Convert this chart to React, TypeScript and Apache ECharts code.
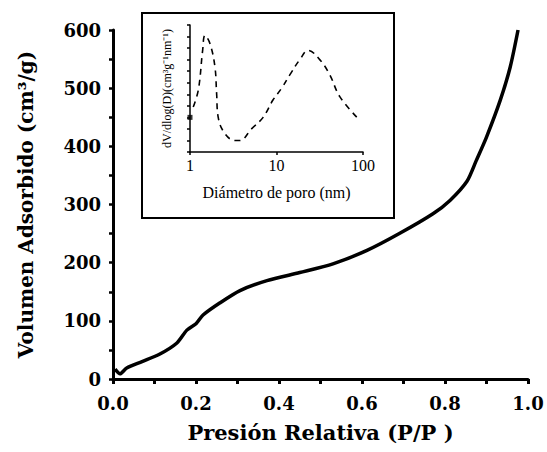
import React, { useEffect, useRef } from "react";
import * as echarts from "echarts";

// Main isotherm (relative pressure vs adsorbed volume)
const pressure = [0.005, 0.017, 0.033, 0.07, 0.113, 0.154, 0.178, 0.2, 0.217, 0.258, 0.306, 0.371, 0.45, 0.53, 0.612, 0.69, 0.771, 0.812, 0.853, 0.875, 0.9, 0.933, 0.957, 0.976];
const volume = [17, 9, 19, 30, 43, 62, 84, 95, 110, 131, 152, 169, 183, 198, 221, 250, 284, 307, 340, 375, 416, 479, 536, 600];

// Inset pore size distribution
const poreDiameter = [1.09, 1.25, 1.4, 1.49, 1.7, 1.94, 2.03, 2.12, 2.53, 3.3, 3.77, 5.14, 7.0, 9.1, 11.4, 14.3, 18.6, 23.2, 31.6, 41.2, 53.9, 87.6];
const dvdlogd = [3.9, 5.4, 8.8, 10.1, 9.4, 7.4, 5.1, 3.0, 1.6, 1.0, 1.0, 2.0, 3.0, 4.5, 5.5, 6.7, 8.0, 8.8, 8.0, 6.7, 4.8, 2.9];
const markerPoint = [[1, 3.0]];

const mainFont = "DejaVu Serif";
const insetFont = "Liberation Serif";

export default function App() {
  const ref = useRef<HTMLDivElement>(null);
  useEffect(() => {
    if (!ref.current) return;
    const chart = echarts.init(ref.current, null, { renderer: "svg" });
    chart.setOption({
      animation: false,
      backgroundColor: "#ffffff",
      grid: [
        { left: 113, right: 19, top: 30, bottom: 73 },
        { left: 190, top: 25, width: 173, height: 127 },
      ],
      graphic: [
        {
          type: "rect",
          shape: { x: 142, y: 13, width: 252, height: 205 },
          style: { fill: "none", stroke: "#000", lineWidth: 2 },
          z: 0,
        },
      ],
      xAxis: [
        {
          gridIndex: 0,
          type: "value",
          min: 0,
          max: 1,
          interval: 0.2,
          name: "Presión Relativa (P/P )",
          nameLocation: "middle",
          nameGap: 43,
          nameTextStyle: { fontFamily: mainFont, fontWeight: "bold", fontSize: 21, color: "#000" },
          axisLine: { lineStyle: { color: "#000", width: 3 } },
          axisTick: { show: true, length: 5, lineStyle: { color: "#000", width: 3 } },
          minorTick: { show: true, splitNumber: 2, length: 5, lineStyle: { color: "#000", width: 3 } },
          axisLabel: {
            fontFamily: mainFont,
            fontWeight: "bold",
            fontSize: 18,
            color: "#000",
            margin: 15,
            formatter: (v: number) => v.toFixed(1),
          },
          splitLine: { show: false },
        },
        {
          gridIndex: 1,
          type: "log",
          logBase: 10,
          min: 1,
          max: 100,
          name: "Diámetro de poro (nm)",
          nameLocation: "middle",
          nameGap: 32,
          nameTextStyle: { fontFamily: insetFont, fontSize: 16, color: "#000" },
          axisLine: { lineStyle: { color: "#000", width: 1.5 } },
          axisTick: { show: true, length: 3, lineStyle: { color: "#000", width: 1.5 } },
          minorTick: { show: false },
          axisLabel: { fontFamily: insetFont, fontSize: 16, color: "#000", margin: 5 },
          splitLine: { show: false },
        },
      ],
      yAxis: [
        {
          gridIndex: 0,
          type: "value",
          min: 0,
          max: 600,
          interval: 100,
          name: "Volumen Adsorbido (cm³/g)",
          nameLocation: "middle",
          nameGap: 77,
          nameTextStyle: { fontFamily: mainFont, fontWeight: "bold", fontSize: 20, color: "#000" },
          axisLine: { lineStyle: { color: "#000", width: 3 } },
          axisTick: { show: true, length: 4, lineStyle: { color: "#000", width: 2.5 } },
          minorTick: { show: true, splitNumber: 2, length: 4, lineStyle: { color: "#000", width: 2.5 } },
          axisLabel: { fontFamily: mainFont, fontWeight: "bold", fontSize: 18, color: "#000", margin: 12 },
          splitLine: { show: false },
        },
        {
          gridIndex: 1,
          type: "value",
          min: 0,
          max: 11,
          interval: 1,
          name: "dV/dlog(D)(cm³g⁻¹nm⁻¹)",
          nameLocation: "middle",
          nameGap: 17,
          nameTextStyle: { fontFamily: insetFont, fontSize: 12, color: "#000" },
          axisLine: { lineStyle: { color: "#000", width: 1.5 } },
          axisTick: { show: true, length: 3, lineStyle: { color: "#000", width: 1.5 } },
          axisLabel: { show: false },
          splitLine: { show: false },
        },
      ],
      series: [
        {
          type: "line",
          xAxisIndex: 0,
          yAxisIndex: 0,
          data: pressure.map((p, i) => [p, volume[i]]),
          smooth: 0.25,
          showSymbol: false,
          lineStyle: { color: "#000", width: 3.5 },
        },
        {
          type: "line",
          xAxisIndex: 1,
          yAxisIndex: 1,
          data: poreDiameter.map((d, i) => [d, dvdlogd[i]]),
          smooth: 0.4,
          showSymbol: false,
          lineStyle: { color: "#000", width: 1.6, type: [6, 5] },
        },
        {
          type: "scatter",
          xAxisIndex: 1,
          yAxisIndex: 1,
          data: markerPoint,
          symbol: "rect",
          symbolSize: 5,
          itemStyle: { color: "#000" },
        },
      ],
    });
    return () => chart.dispose();
  }, []);
  return <div ref={ref} style={{ position: "absolute", left: 0, top: 0, width: 547, height: 452 }} />;
}
